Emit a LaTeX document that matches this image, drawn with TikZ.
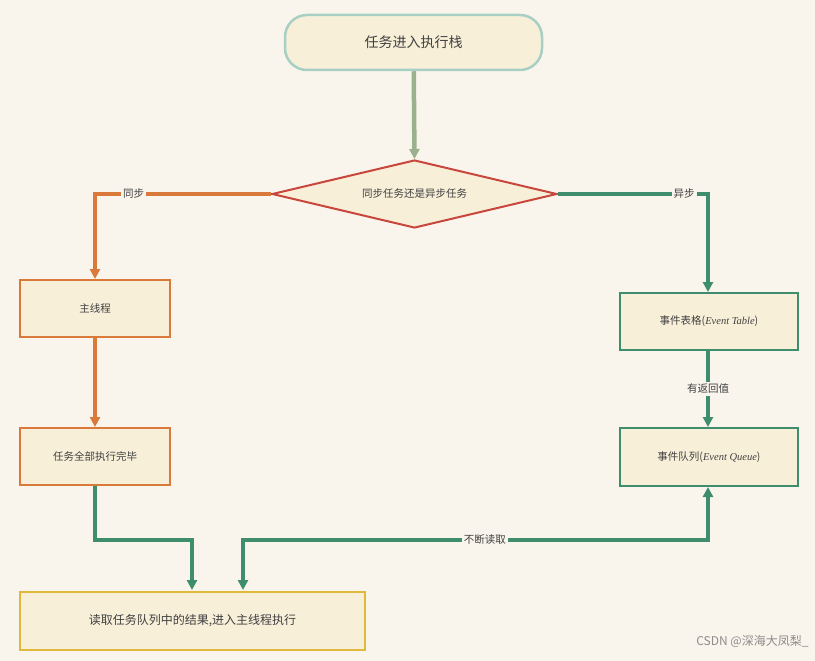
\documentclass[tikz,border=0pt]{standalone}
\usepackage{fontspec}
\setmainfont{Noto Sans CJK SC}
\newfontfamily\lat{Liberation Serif}
\usetikzlibrary{arrows.meta,shapes.geometric}
\definecolor{bg}{HTML}{FAF5EC}
\definecolor{fillc}{HTML}{F8EFD9}
\definecolor{teal}{HTML}{A8CFC4}
\definecolor{sage}{HTML}{9BB08C}
\definecolor{redc}{HTML}{C9463D}
\definecolor{orng}{HTML}{D9793A}
\definecolor{grn}{HTML}{3E8E6E}
\definecolor{yel}{HTML}{E0B83A}
\tikzset{
  box/.style={draw, line width=2pt, fill=fillc, inner sep=0pt, font=\fontsize{10.5}{12}\selectfont, text=black!75},
  conn/.style={line width=4.5pt, -{Triangle[width=10pt,length=10pt]}},
  lab/.style={fill=bg, inner sep=2pt, font=\fontsize{10.5}{12}\selectfont, text=black!75}
}
\begin{document}
\begin{tikzpicture}[x=1pt,y=-1pt]
\fill[bg] (0,0) rectangle (815,661);
\useasboundingbox (0,0) rectangle (815,661);
\node[box, draw=teal, line width=2.5pt, rounded corners=22pt, minimum width=257pt, minimum height=55pt, font=\fontsize{14}{16}\selectfont] (start) at (413.5,42.5) {任务进入执行栈};
\node[box, draw=redc, diamond, aspect=4.2, minimum width=285pt, minimum height=68pt, inner sep=0pt] (dec) at (414.5,194) {同步任务还是异步任务};
\node[box, draw=orng, minimum width=150pt, minimum height=57pt] (main) at (95,308.5) {主线程};
\node[box, draw=orng, minimum width=150pt, minimum height=57pt] (done) at (95,456.5) {任务全部执行完毕};
\node[box, draw=grn, minimum width=178pt, minimum height=57pt] (tab) at (709,321.5) {事件表格({\lat\itshape Event Table})};
\node[box, draw=grn, minimum width=178pt, minimum height=58pt] (que) at (709,457) {事件队列({\lat\itshape Event Queue})};
\node[box, draw=yel, minimum width=345pt, minimum height=58pt, font=\fontsize{12}{14}\selectfont] (read) at (192.5,621) {读取任务队列中的结果,进入主线程执行};
\draw[conn, sage] (start) -- (dec.north);
\draw[conn, orng] (dec.west) -- (95,194) node[lab, pos=0.78] {同步} -- (main.north);
\draw[conn, grn] (dec.east) -- (708,194) node[lab, pos=0.84] {异步} -- (tab.north -| 708,0);
\draw[conn, orng] (main) -- (done);
\draw[conn, grn] (tab.south -| 708,0) -- node[lab] {有返回值} (que.north -| 708,0);
\draw[conn, grn] (done.south) -- (95,540) -- (192,540) -- (192,590);
\draw[conn, grn, {Triangle[width=10pt,length=10pt]}-{Triangle[width=10pt,length=10pt]}] (243,590) -- (243,540) -- (708,540) node[lab, pos=0.52] {不断读取} -- (que.south -| 708,0);
\node[font=\fontsize{12}{14}\selectfont, text=black!45, anchor=east] (wm) at (812,641) {CSDN @深海大凤梨\_};
\end{tikzpicture}
\end{document}
